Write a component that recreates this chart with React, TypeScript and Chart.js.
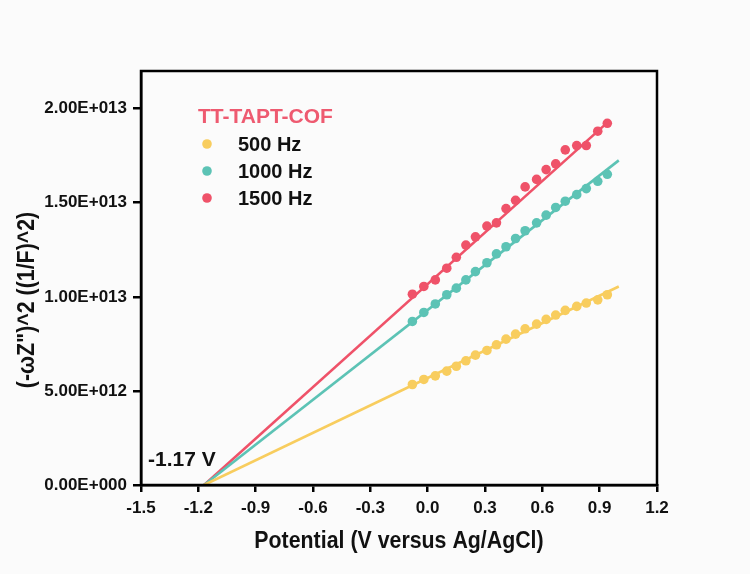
import React, { useEffect, useRef } from "react";
import { Chart, registerables } from "chart.js";

Chart.register(...registerables);

const potentials = [-0.08, -0.02, 0.04, 0.1, 0.15, 0.2, 0.25, 0.31, 0.36, 0.41, 0.46, 0.51, 0.57, 0.62, 0.67, 0.72, 0.78, 0.83, 0.89, 0.94];
const hz500 = [5.34, 5.61, 5.8, 6.05, 6.31, 6.6, 6.9, 7.15, 7.45, 7.75, 8.02, 8.3, 8.55, 8.8, 9.03, 9.28, 9.49, 9.67, 9.84, 10.11];
const hz1000 = [8.69, 9.17, 9.62, 10.11, 10.46, 10.9, 11.34, 11.81, 12.28, 12.66, 13.1, 13.51, 13.93, 14.34, 14.75, 15.08, 15.43, 15.75, 16.14, 16.51];
const hz1500 = [10.14, 10.55, 10.9, 11.52, 12.1, 12.75, 13.19, 13.76, 13.93, 14.69, 15.13, 15.84, 16.24, 16.76, 17.07, 17.81, 18.04, 18.04, 18.8, 19.22];
const scaleE12 = 1e12;

// fitted lines: [x0, y0, x1, y1] (y in 1e12)
const fit500 = [-1.17, 0, 1.0, 10.55];
const fit1000 = [-1.17, 0, 1.0, 17.25];
const fit1500 = [-1.17, 0, 0.95, 19.35];

const xTicks = [-1.5, -1.2, -0.9, -0.6, -0.3, 0, 0.3, 0.6, 0.9, 1.2];
const yTicks = [0, 5e12, 1e13, 1.5e13, 2e13];

const seriesNames = ["500 Hz", "1000 Hz", "1500 Hz"];
const seriesColors = ["#f8cd5e", "#5cc3b5", "#ef5269"];
const legendTitle = "TT-TAPT-COF";
const annotationText = "-1.17 V";
const xTitle = "Potential (V versus Ag/AgCl)";
const yTitle = "(-\u03c9Z\")^2 ((1/F)^2)";

const SANS = "'Liberation Sans', Arial, sans-serif";

function toPoints(ys: number[]) {
  return potentials.map((x, i) => ({ x, y: ys[i] * scaleE12 }));
}
function fitPoints(f: number[]) {
  return [
    { x: f[0], y: f[1] * scaleE12 },
    { x: f[2], y: f[3] * scaleE12 },
  ];
}
function fmtE(v: number) {
  if (v === 0) return "0.00E+000";
  const exp = Math.floor(Math.log10(Math.abs(v)) + 1e-9);
  const man = v / Math.pow(10, exp);
  const sign = exp >= 0 ? "+" : "-";
  return man.toFixed(2) + "E" + sign + String(Math.abs(exp)).padStart(3, "0");
}

const overlay = {
  id: "overlay",
  beforeDraw(chart: any) {
    const ctx = chart.ctx;
    ctx.save();
    ctx.fillStyle = "#fbfbfb";
    ctx.fillRect(0, 0, chart.width, chart.height);
    ctx.restore();
  },
  afterDraw(chart: any) {
    const ctx = chart.ctx;
    const a = chart.chartArea;
    ctx.save();
    ctx.strokeStyle = "#000";
    ctx.lineWidth = 2.5;
    ctx.strokeRect(a.left, a.top, a.right - a.left, a.bottom - a.top);

    // legend
    ctx.textBaseline = "middle";
    ctx.textAlign = "left";
    ctx.font = "bold 21px " + SANS;
    ctx.fillStyle = "#ee5a70";
    ctx.fillText(legendTitle, 198, 117);
    const ys = [144, 171, 198];
    ctx.font = "bold 20px " + SANS;
    for (let i = 0; i < 3; i++) {
      ctx.fillStyle = seriesColors[i];
      ctx.beginPath();
      ctx.arc(207, ys[i], 4.8, 0, Math.PI * 2);
      ctx.fill();
      ctx.fillStyle = "#111";
      ctx.fillText(seriesNames[i], 238, ys[i] + 1);
    }

    // annotation
    ctx.font = "bold 21px " + SANS;
    ctx.fillStyle = "#111";
    ctx.fillText(annotationText, 148, 460);

    // axis titles
    ctx.font = "bold 22px " + SANS;
    ctx.textAlign = "center";
    ctx.save();
    ctx.translate((a.left + a.right) / 2, 542);
    ctx.scale(0.97, 1.05);
    ctx.fillText(xTitle, 0, 0);
    ctx.restore();
    ctx.translate(28, 300);
    ctx.rotate(-Math.PI / 2);
    ctx.scale(0.97, 1.05);
    ctx.fillText(yTitle, 0, 0);
    ctx.restore();
  },
};

export default function App() {
  const ref = useRef<HTMLCanvasElement | null>(null);
  useEffect(() => {
    if (!ref.current) return;
    const pointDs = [hz500, hz1000, hz1500].map((d, i) => ({
      label: seriesNames[i],
      data: toPoints(d),
      backgroundColor: seriesColors[i],
      borderColor: seriesColors[i],
      pointRadius: 4.8,
      pointBorderWidth: 0,
      showLine: false,
      order: 1,
    }));
    const lineDs = [fit500, fit1000, fit1500].map((f, i) => ({
      label: seriesNames[i] + " fit",
      data: fitPoints(f),
      borderColor: seriesColors[i],
      backgroundColor: seriesColors[i],
      borderWidth: 2.6,
      pointRadius: 0,
      showLine: true,
      order: 2,
    }));
    const tickFont = { family: SANS, size: 17, weight: "bold" };
    const chart = new Chart(ref.current, {
      type: "scatter",
      data: { datasets: [...pointDs, ...lineDs] as any },
      plugins: [overlay],
      options: {
        animation: false,
        responsive: false,
        layout: { padding: { left: 0, top: 71, right: 93, bottom: 0 } },
        plugins: { legend: { display: false }, tooltip: { enabled: false } },
        scales: {
          x: {
            type: "linear",
            min: -1.5,
            max: 1.2,
            afterFit: (s: any) => {
              s.height = 574 - 485;
            },
            afterBuildTicks: (s: any) => {
              s.ticks = xTicks.map((v) => ({ value: v }));
            },
            ticks: {
              callback: (v: any) => Number(v).toFixed(1),
              font: tickFont,
              color: "#111",
              padding: 6,
              maxRotation: 0,
              autoSkip: false,
            },
            grid: { drawOnChartArea: false, drawTicks: true, tickLength: 7, color: "#000", lineWidth: 2.5 },
            border: { display: true, color: "#000", width: 2.5 },
          },
          y: {
            type: "linear",
            min: 0,
            max: 2.2e13,
            afterFit: (s: any) => {
              s.width = 141;
            },
            afterBuildTicks: (s: any) => {
              s.ticks = yTicks.map((v) => ({ value: v }));
            },
            ticks: {
              callback: (v: any) => fmtE(Number(v)),
              font: tickFont,
              color: "#111",
              padding: 6,
            },
            grid: { drawOnChartArea: false, drawTicks: true, tickLength: 8, color: "#000", lineWidth: 2.5 },
            border: { display: true, color: "#000", width: 2.5 },
          },
        },
      } as any,
    });
    return () => chart.destroy();
  }, []);
  return (
    <div style={{ position: "absolute", left: 0, top: 0, width: 750, height: 574 }}>
      <canvas ref={ref} width={750} height={574} style={{ width: 750, height: 574, display: "block" }} />
    </div>
  );
}
